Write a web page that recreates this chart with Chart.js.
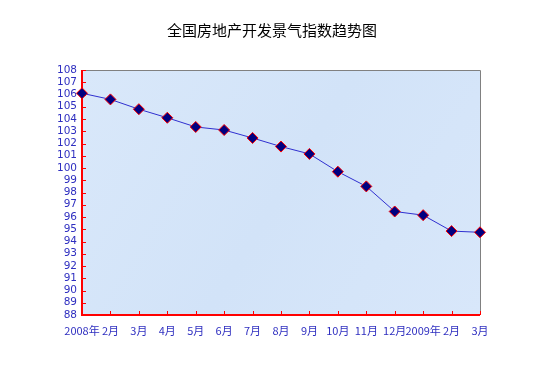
<!DOCTYPE html>
<html><head><meta charset="utf-8">
<script src="https://cdn.jsdelivr.net/npm/chart.js@4/dist/chart.umd.min.js"></script>
<style>html,body{margin:0;padding:0;background:#fff;}#wrap{width:536px;height:365px;}</style>
</head><body><div id="wrap"><canvas id="c" width="536" height="365"></canvas></div>
<script>
const titleText = '全国房地产开发景气指数趋势图';
const categories = ['2008年','2月','3月','4月','5月','6月','7月','8月','9月','10月','11月','12月','2009年','2月','3月'];
const indexValues = [106.1, 105.6, 104.8, 104.1, 103.35, 103.1, 102.45, 101.75, 101.15, 99.7, 98.5, 96.45, 96.15, 94.85, 94.75];
const yMin = 88, yMax = 108;

const deco = {
  id: 'deco',
  beforeDatasetsDraw(chart) {
    const {ctx, chartArea: a} = chart;
    ctx.save();
    const g = ctx.createLinearGradient(a.left, a.top, a.right, a.bottom);
    g.addColorStop(0, '#d9e8fa');
    g.addColorStop(0.5, '#d2e3f8');
    g.addColorStop(1, '#d8e7fa');
    ctx.fillStyle = g;
    ctx.fillRect(a.left, a.top, a.right - a.left, a.bottom - a.top);
    ctx.strokeStyle = '#808080';
    ctx.lineWidth = 1;
    ctx.beginPath();
    ctx.moveTo(a.left, a.top + 0.5); ctx.lineTo(a.right + 0.5, a.top + 0.5); ctx.lineTo(a.right + 0.5, a.bottom);
    ctx.stroke();
    ctx.strokeStyle = '#ff0000';
    ctx.beginPath();
    const ys = chart.scales.y;
    ys.ticks.forEach(t => {
      const p = Math.round(ys.getPixelForValue(t.value)) + 0.5;
      ctx.moveTo(a.left, p); ctx.lineTo(a.left + 4, p);
    });
    const xs = chart.scales.x;
    categories.forEach((c, i) => {
      const p = Math.round(xs.getPixelForValue(i)) + 0.5;
      ctx.moveTo(p, a.bottom); ctx.lineTo(p, a.bottom - 4);
    });
    ctx.stroke();
    ctx.beginPath();
    ctx.lineWidth = 2;
    ctx.moveTo(a.left, a.top); ctx.lineTo(a.left, a.bottom); ctx.lineTo(a.right, a.bottom);
    ctx.stroke();
    ctx.fillStyle = '#000000';
    ctx.font = '15px "Noto Sans CJK SC", sans-serif';
    ctx.textAlign = 'center';
    ctx.textBaseline = 'middle';
    ctx.fillText(titleText, 272, 30);
    ctx.restore();
  }
};

new Chart(document.getElementById('c'), {
  type: 'line',
  data: {
    labels: categories,
    datasets: [{
      data: indexValues,
      borderColor: '#3030d0',
      borderWidth: 1,
      pointStyle: 'rectRot',
      pointRadius: 5.5,
      pointBackgroundColor: '#000080',
      pointBorderColor: '#ff0000',
      pointBorderWidth: 1,
      tension: 0,
      clip: false
    }]
  },
  options: {
    responsive: false,
    animation: false,
    devicePixelRatio: 1,
    layout: {padding: {left: 0, right: 56, top: 70, bottom: 0}},
    plugins: {
      legend: {display: false},
      tooltip: {enabled: false},
      title: {display: false}
    },
    scales: {
      x: {
        offset: false,
        grid: {display: false, drawTicks: false},
        border: {display: false},
        ticks: {
          color: '#2f2fc0', autoSkip: false, maxRotation: 0, padding: 9,
          font: {family: '"Noto Sans CJK SC", sans-serif', size: 11}
        },
        afterFit(s) { s.height = 50; }
      },
      y: {
        min: yMin, max: yMax,
        grid: {display: false, drawTicks: false},
        border: {display: false},
        ticks: {
          stepSize: 1, autoSkip: false, color: '#2f2fc0', padding: 5,
          font: {family: '"DejaVu Sans", sans-serif', size: 10.5}
        },
        afterFit(s) { s.width = 82; }
      }
    }
  },
  plugins: [deco]
});
</script></body></html>
